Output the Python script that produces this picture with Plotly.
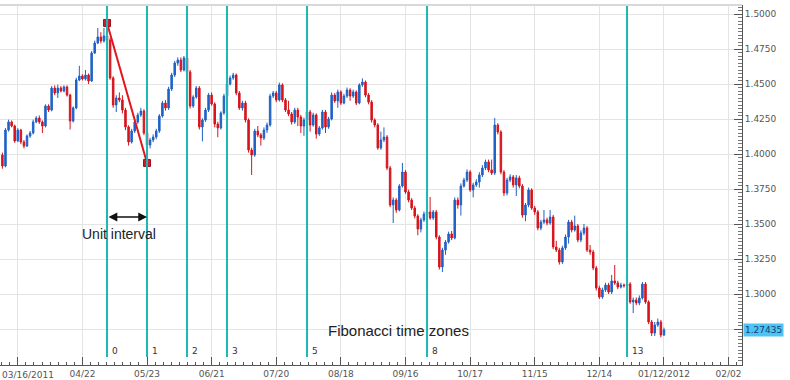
import plotly.graph_objects as go

# ---------------- data ----------------
first_open = 1.3993
close = [
    1.3914, 1.4171, 1.4229, 1.4200, 1.4093, 1.4171, 1.4086, 1.4057, 1.4129, 1.4150,
    1.4229, 1.4257, 1.4229, 1.4200, 1.4343, 1.4314, 1.4471, 1.4436, 1.4471, 1.4450,
    1.4479, 1.4421, 1.4236, 1.4329, 1.4529, 1.4557, 1.4536, 1.4564, 1.4521, 1.4721,
    1.4793, 1.4836, 1.4807, 1.4843, 1.4814, 1.4543, 1.4350, 1.4400, 1.4386, 1.4314,
    1.4193, 1.4086, 1.4164, 1.4229, 1.4279, 1.4307, 1.4150, 1.4064, 1.4100, 1.4121,
    1.4164, 1.4271, 1.4364, 1.4329, 1.4464, 1.4564, 1.4650, 1.4671, 1.4600, 1.4686,
    1.4586, 1.4343, 1.4407, 1.4471, 1.4193, 1.4243, 1.4314, 1.4421, 1.4357, 1.4214,
    1.4186, 1.4293, 1.4414, 1.4500, 1.4543, 1.4564, 1.4436, 1.4329, 1.4364, 1.4243,
    1.4029, 1.3993, 1.4164, 1.4136, 1.4114, 1.4171, 1.4207, 1.4414, 1.4436, 1.4386,
    1.4493, 1.4386, 1.4314, 1.4286, 1.4229, 1.4314, 1.4264, 1.4200, 1.4243, 1.4300,
    1.4207, 1.4279, 1.4143, 1.4186, 1.4300, 1.4193, 1.4250, 1.4421, 1.4379, 1.4443,
    1.4364, 1.4414, 1.4457, 1.4414, 1.4443, 1.4364, 1.4493, 1.4514, 1.4421, 1.4371,
    1.4243, 1.4207, 1.4043, 1.4100, 1.4121, 1.3900, 1.3636, 1.3671, 1.3600, 1.3771,
    1.3871, 1.3729, 1.3671, 1.3614, 1.3557, 1.3464, 1.3529, 1.3571, 1.3586, 1.3543,
    1.3586, 1.3407, 1.3193, 1.3314, 1.3371, 1.3429, 1.3400, 1.3671, 1.3636, 1.3771,
    1.3814, 1.3871, 1.3743, 1.3779, 1.3800, 1.3850, 1.3900, 1.3943, 1.3886, 1.3864,
    1.4207, 1.4157, 1.3871, 1.3721, 1.3814, 1.3836, 1.3779, 1.3829, 1.3771, 1.3564,
    1.3636, 1.3743, 1.3614, 1.3586, 1.3471, 1.3514, 1.3529, 1.3507, 1.3550, 1.3336,
    1.3314, 1.3229, 1.3329, 1.3407, 1.3514, 1.3457, 1.3486, 1.3386, 1.3436, 1.3471,
    1.3314, 1.3300, 1.3186, 1.3043, 1.2979, 1.3029, 1.3064, 1.3014, 1.3093, 1.3079,
    1.3050, 1.3064, 1.3060, 1.3071, 1.2943, 1.2957, 1.2936, 1.2971, 1.3071, 1.2943,
    1.2800, 1.2721, 1.2779, 1.2800, 1.2707, 1.27435,
]
high = [
    1.4010, 1.4185, 1.4245, 1.4240, 1.4210, 1.4185, 1.4180, 1.4100, 1.4140, 1.4165,
    1.4245, 1.4270, 1.4275, 1.4240, 1.4355, 1.4355, 1.4485, 1.4490, 1.4495, 1.4485,
    1.4490, 1.4490, 1.4430, 1.4340, 1.4545, 1.4630, 1.4570, 1.4600, 1.4575, 1.4735,
    1.4810, 1.4900, 1.4870, 1.4900, 1.4936, 1.4830, 1.4555, 1.4420, 1.4440, 1.4420,
    1.4330, 1.4205, 1.4180, 1.4245, 1.4295, 1.4330, 1.4320, 1.4165, 1.4115, 1.4140,
    1.4180, 1.4285, 1.4380, 1.4385, 1.4480, 1.4580, 1.4665, 1.4690, 1.4690, 1.4700,
    1.4700, 1.4600, 1.4420, 1.4485, 1.4485, 1.4255, 1.4330, 1.4435, 1.4440, 1.4370,
    1.4230, 1.4305, 1.4430, 1.4515, 1.4560, 1.4580, 1.4575, 1.4450, 1.4380, 1.4380,
    1.4255, 1.4045, 1.4180, 1.4200, 1.4150, 1.4190, 1.4225, 1.4430, 1.4450, 1.4450,
    1.4510, 1.4505, 1.4400, 1.4380, 1.4300, 1.4330, 1.4330, 1.4280, 1.4260, 1.4315,
    1.4315, 1.4295, 1.4290, 1.4200, 1.4315, 1.4315, 1.4265, 1.4440, 1.4435, 1.4460,
    1.4455, 1.4430, 1.4475, 1.4470, 1.4460, 1.4455, 1.4505, 1.4540, 1.4525, 1.4435,
    1.4385, 1.4255, 1.4220, 1.4160, 1.4190, 1.4135, 1.3915, 1.3690, 1.3685, 1.3785,
    1.3936, 1.3885, 1.3745, 1.3685, 1.3630, 1.3570, 1.3545, 1.3590, 1.3600, 1.3693,
    1.3600, 1.3600, 1.3420, 1.3330, 1.3385, 1.3445, 1.3450, 1.3690, 1.3690, 1.3790,
    1.3830, 1.3890, 1.3885, 1.3795, 1.3820, 1.3870, 1.3920, 1.3960, 1.3960, 1.3960,
    1.4257, 1.4220, 1.4170, 1.3885, 1.3830, 1.3855, 1.3850, 1.3850, 1.3845, 1.3785,
    1.3650, 1.3760, 1.3755, 1.3630, 1.3600, 1.3530, 1.3600, 1.3545, 1.3600, 1.3565,
    1.3380, 1.3330, 1.3345, 1.3425, 1.3530, 1.3530, 1.3560, 1.3500, 1.3455, 1.3500,
    1.3485, 1.3350, 1.3315, 1.3200, 1.3060, 1.3045, 1.3080, 1.3080, 1.3136, 1.3207,
    1.3095, 1.3080, 1.3075, 1.3090, 1.3085, 1.2975, 1.2975, 1.2990, 1.3085, 1.3085,
    1.2955, 1.2815, 1.2800, 1.2825, 1.2815, 1.2760,
]
low = [
    1.3895, 1.3905, 1.4160, 1.4190, 1.4080, 1.4085, 1.4070, 1.4040, 1.4050, 1.4115,
    1.4140, 1.4220, 1.4215, 1.4150, 1.4190, 1.4300, 1.4305, 1.4420, 1.4400, 1.4440,
    1.4440, 1.4410, 1.4175, 1.4225, 1.4320, 1.4520, 1.4525, 1.4525, 1.4500, 1.4515,
    1.4715, 1.4785, 1.4790, 1.4795, 1.4800, 1.4530, 1.4330, 1.4300, 1.4370, 1.4290,
    1.4170, 1.4060, 1.4075, 1.4150, 1.4215, 1.4265, 1.4135, 1.3936, 1.4040, 1.4085,
    1.4105, 1.4150, 1.4260, 1.4310, 1.4315, 1.4450, 1.4550, 1.4630, 1.4585, 1.4590,
    1.4570, 1.4325, 1.4330, 1.4395, 1.4175, 1.4090, 1.4230, 1.4300, 1.4345, 1.4190,
    1.4120, 1.4175, 1.4280, 1.4400, 1.4490, 1.4530, 1.4420, 1.4315, 1.4310, 1.4225,
    1.4010, 1.3850, 1.3980, 1.4120, 1.4060, 1.4100, 1.4150, 1.4195, 1.4400, 1.4370,
    1.4375, 1.4370, 1.4300, 1.4270, 1.4210, 1.4215, 1.4200, 1.4150, 1.4130, 1.4230,
    1.4160, 1.4195, 1.4110, 1.4130, 1.4175, 1.4150, 1.4180, 1.4240, 1.4365, 1.4330,
    1.4350, 1.4355, 1.4400, 1.4380, 1.4400, 1.4350, 1.4355, 1.4480, 1.4405, 1.4355,
    1.4225, 1.4190, 1.4030, 1.4030, 1.4085, 1.3885, 1.3620, 1.3507, 1.3580, 1.3590,
    1.3760, 1.3715, 1.3655, 1.3600, 1.3540, 1.3420, 1.3440, 1.3515, 1.3560, 1.3530,
    1.3530, 1.3390, 1.3175, 1.3157, 1.3280, 1.3360, 1.3385, 1.3390, 1.3610, 1.3560,
    1.3760, 1.3800, 1.3730, 1.3690, 1.3765, 1.3760, 1.3835, 1.3885, 1.3870, 1.3850,
    1.3850, 1.4140, 1.3855, 1.3700, 1.3705, 1.3800, 1.3760, 1.3700, 1.3755, 1.3545,
    1.3520, 1.3620, 1.3600, 1.3565, 1.3455, 1.3455, 1.3500, 1.3490, 1.3495, 1.3320,
    1.3300, 1.3210, 1.3215, 1.3315, 1.3360, 1.3440, 1.3445, 1.3370, 1.3370, 1.3420,
    1.3300, 1.3280, 1.3170, 1.3025, 1.2965, 1.2965, 1.3015, 1.3000, 1.3000, 1.3065,
    1.3035, 1.3040, 1.3045, 1.3050, 1.2930, 1.2864, 1.2920, 1.2920, 1.2960, 1.2930,
    1.2785, 1.2700, 1.2700, 1.2765, 1.2690, 1.2700,
]
open_ = [first_open] + close[:-1]
bar_index = list(range(len(close)))

date_tick_index = [5, 26, 47, 68, 89, 110, 131, 152, 173, 194, 215, 236]
date_tick_text = ["03/16/2011", "04/22", "05/23", "06/21", "07/20", "08/18",
                  "09/16", "10/17", "11/15", "12/14", "01/12/2012", "02/02"]

price_ticks = [1.2750, 1.3000, 1.3250, 1.3500, 1.3750, 1.4000, 1.4250, 1.4500, 1.4750, 1.5000]

fib_numbers = [0, 1, 2, 3, 5, 8, 13]
fib_start_index = 34     # swing high
fib_unit_end_index = 47  # swing low (unit interval end)
last_price = 1.27435

# ---------------- figure ----------------
BLUE = "#1f62c6"
RED = "#d7141c"
TEAL = "#1db8b2"
AXIS_FONT = dict(family="DejaVu Sans", size=9, color="#555555")

fig = go.Figure()
fig.add_trace(go.Candlestick(
    x=bar_index, open=open_, high=high, low=low, close=close,
    increasing=dict(line=dict(color=BLUE, width=1), fillcolor=BLUE),
    decreasing=dict(line=dict(color=RED, width=1), fillcolor=RED),
    whiskerwidth=0, showlegend=False, hoverinfo="skip",
))

unit = fib_unit_end_index - fib_start_index
fib_idx = [fib_start_index + n * unit for n in fib_numbers]

shapes = []
for fi in fib_idx:
    shapes.append(dict(type="line", xref="x", yref="paper", x0=fi, x1=fi,
                       y0=8 / 360, y1=1, line=dict(color=TEAL, width=2), layer="above"))
shapes.append(dict(type="line", xref="paper", yref="paper", x0=0, x1=1, y0=1, y1=1,
                   line=dict(color="#d8d8d8", width=2)))

annotations = []
for n, fi in zip(fib_numbers, fib_idx):
    annotations.append(dict(x=fi, y=14 / 360, xref="x", yref="paper", text=str(n),
                            showarrow=False, xanchor="left", xshift=3, yanchor="middle",
                            font=dict(family="DejaVu Sans", size=9, color="#333333")))

# first date label (left-aligned at the chart edge, as in the reference)
annotations.append(dict(x=0, y=0, xref="paper", yref="paper", text=date_tick_text[0],
                        showarrow=False, xanchor="left", yanchor="top", yshift=-3,
                        font=AXIS_FONT))

# swing line
fig.add_trace(go.Scatter(
    x=[fib_start_index, fib_unit_end_index],
    y=[high[fib_start_index], low[fib_unit_end_index]],
    mode="lines+markers",
    line=dict(color="#e3141c", width=2),
    marker=dict(symbol="square", size=7, color="#d01a28", line=dict(color="#a01020", width=1)),
    showlegend=False, hoverinfo="skip",
))

arrow_y = 1.355
annotations.append(dict(x=fib_unit_end_index, y=arrow_y, ax=fib_start_index, ay=arrow_y,
                        xref="x", yref="y", axref="x", ayref="y", text="",
                        showarrow=True, arrowhead=2, startarrowhead=2, arrowside="end+start",
                        arrowsize=1.1, startarrowsize=1.1, arrowwidth=1.6, arrowcolor="#111111"))
annotations.append(dict(x=37.9, y=1.3429, xref="x", yref="y", text="Unit interval",
                        showarrow=False, font=dict(family="Liberation Sans", size=14, color="#222222")))
annotations.append(dict(x=128.6, y=1.2736, xref="x", yref="y", text="Fibonacci time zones",
                        showarrow=False, font=dict(family="Liberation Sans", size=15, color="#222222")))
annotations.append(dict(x=1, y=last_price, xref="paper", yref="y", text=f"{last_price:.5f}",
                        showarrow=False, xanchor="left", xshift=1, yanchor="middle",
                        bgcolor="#4cc4f4", borderpad=1,
                        font=dict(family="DejaVu Sans", size=9, color="#1b3d6e")))

fig.update_layout(
    width=790, height=380,
    margin=dict(l=0, r=48, t=5, b=15),
    paper_bgcolor="white", plot_bgcolor="white",
    shapes=shapes, annotations=annotations,
    xaxis=dict(
        range=[-0.78, 240.36], rangeslider=dict(visible=False),
        tickmode="array", tickvals=date_tick_index,
        ticktext=[""] + date_tick_text[1:],
        ticks="inside", ticklen=8, tickcolor="#555555",
        showgrid=True, gridcolor="#e4e4e4", gridwidth=1,
        showline=True, linecolor="#555555", linewidth=1,
        zeroline=False,
        tickfont=AXIS_FONT,
        minor=dict(tick0=5, dtick=21 / 8, ticks="inside", ticklen=3,
                   tickcolor="#555555", showgrid=False),
    ),
    yaxis=dict(
        side="right", range=[1.24929, 1.50643],
        tickmode="array", tickvals=price_ticks,
        ticktext=["" if abs(v - 1.275) < 1e-9 else f"{v:.4f}" for v in price_ticks],
        ticks="inside", ticklen=8, tickcolor="#555555",
        showgrid=True, gridcolor="#e4e4e4", gridwidth=1,
        showline=True, linecolor="#555555", linewidth=1,
        zeroline=False,
        tickfont=AXIS_FONT,
        minor=dict(tick0=1.25, dtick=0.0025, ticks="inside", ticklen=4,
                   tickcolor="#777777", showgrid=False),
    ),
)

fig.write_html("out.html")
